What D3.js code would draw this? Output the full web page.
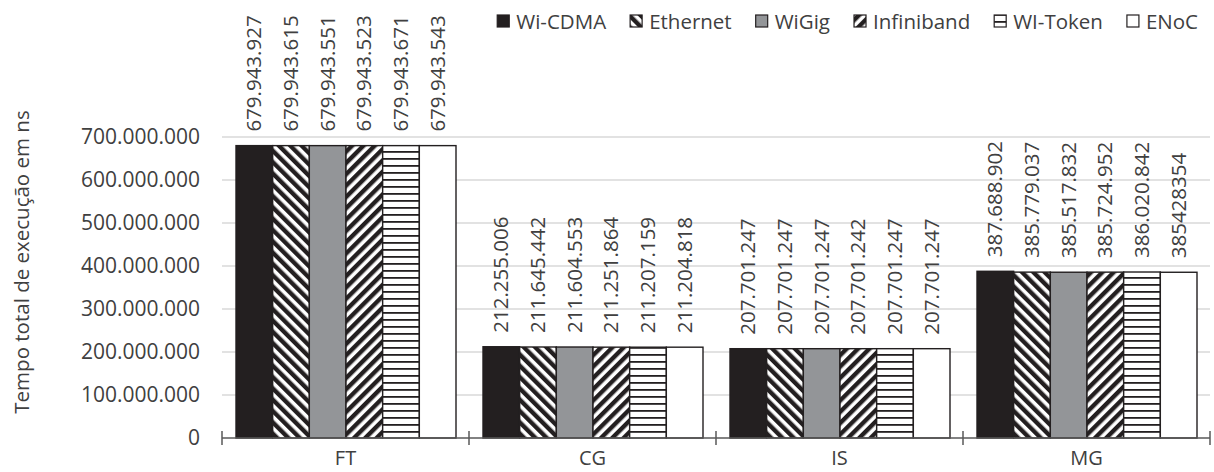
<!DOCTYPE html>
<html>
<head>
<meta charset="utf-8">
<script src="https://cdn.jsdelivr.net/npm/d3@7"></script>
<style>
  body { margin: 0; background: #fff; }
  text { font-family: "Open Sans", sans-serif; fill: #404040; }
</style>
</head>
<body>
<div id="chart"></div>
<script>
// categories and series
var categories = ["FT", "CG", "IS", "MG"];
var seriesNames = ["Wi-CDMA", "Ethernet", "WiGig", "Infiniband", "WI-Token", "ENoC"];

var wiCdma     = [679943927, 212255006, 207701247, 387688902];
var ethernet   = [679943615, 211645442, 207701247, 385779037];
var wigig      = [679943551, 211604553, 207701247, 385517832];
var infiniband = [679943523, 211251864, 207701242, 385724952];
var wiToken    = [679943671, 211207159, 207701247, 386020842];
var enoc       = [679943543, 211204818, 207701247, 385428354];

// the MG / ENoC label is printed without separators in the original
var enocLabels = ["679.943.543", "211.204.818", "207.701.247", "385428354"];

var yTicks = [0, 100000000, 200000000, 300000000, 400000000, 500000000, 600000000, 700000000];

var seriesValues = [wiCdma, ethernet, wigig, infiniband, wiToken, enoc];

var svgWidth = 1214;
var svgHeight = 472;
var margin = { top: 137, right: 4, bottom: 34, left: 222 };
var width = svgWidth - margin.left - margin.right;
var height = svgHeight - margin.top - margin.bottom;

var fmt = function(v) { return d3.format(",")(v).replace(/,/g, "."); };

var svg = d3.select("#chart")
  .append("svg")
  .attr("width", svgWidth)
  .attr("height", svgHeight);

// patterns
var defs = svg.append("defs");
function stripes(id, angle) {
  var p = defs.append("pattern")
    .attr("id", id)
    .attr("patternUnits", "userSpaceOnUse")
    .attr("width", 8).attr("height", 8)
    .attr("patternTransform", "rotate(" + angle + ")");
  p.append("rect").attr("width", 8).attr("height", 8).attr("fill", "#fff");
  p.append("rect").attr("width", 4.4).attr("height", 8).attr("fill", "#231f20");
}
stripes("pat-back", -45);
stripes("pat-fwd", 45);
var ph = defs.append("pattern")
  .attr("id", "pat-horiz")
  .attr("patternUnits", "userSpaceOnUse")
  .attr("width", 8).attr("height", 7);
ph.append("rect").attr("width", 8).attr("height", 7).attr("fill", "#fff");
ph.append("rect").attr("y", 0).attr("width", 8).attr("height", 1.8).attr("fill", "#231f20");

var fills = ["#231f20", "url(#pat-back)", "#939598", "url(#pat-fwd)", "url(#pat-horiz)", "#ffffff"];

var chartGroup = svg.append("g")
  .attr("transform", `translate(${margin.left}, ${margin.top})`);

// scales
var x0 = d3.scaleBand()
  .domain(categories)
  .range([0, width]);

var gap = 14;
var x1 = d3.scaleBand()
  .domain(seriesNames)
  .range([gap, x0.bandwidth() - gap + 1]);

var yLinearScale = d3.scaleLinear()
  .domain([0, 700000000])
  .range([height, 0]);

// gridlines
chartGroup.append("g")
  .selectAll("line")
  .data(yTicks.slice(1))
  .enter()
  .append("line")
    .attr("x1", 0)
    .attr("x2", width)
    .attr("y1", d => yLinearScale(d))
    .attr("y2", d => yLinearScale(d))
    .attr("stroke", "#d9d9d9")
    .attr("stroke-width", 1.3);

// y tick labels (no axis line)
var leftAxis = d3.axisLeft(yLinearScale)
  .tickValues(yTicks)
  .tickFormat(fmt)
  .tickSize(0)
  .tickPadding(22);
var yAxisG = chartGroup.append("g").call(leftAxis);
yAxisG.select(".domain").remove();
yAxisG.selectAll("text")
  .style("font-family", "Open Sans")
  .style("font-size", "21px")
  .attr("fill", "#404040");

// bars
var rows = categories.map(function(c, i) {
  return seriesNames.map(function(s, j) {
    return { cat: c, series: s, idx: j, value: seriesValues[j][i],
             label: j === 5 ? enocLabels[i] : fmt(seriesValues[j][i]) };
  });
});

var groups = chartGroup.selectAll(".cat")
  .data(rows)
  .enter()
  .append("g")
    .attr("class", "cat")
    .attr("transform", (d, i) => `translate(${x0(categories[i])}, 0)`);

groups.selectAll("rect")
  .data(d => d)
  .enter()
  .append("rect")
    .attr("x", d => x1(d.series))
    .attr("y", d => yLinearScale(d.value))
    .attr("width", x1.bandwidth())
    .attr("height", d => height - yLinearScale(d.value))
    .attr("fill", d => fills[d.idx])
    .attr("stroke", "#231f20")
    .attr("stroke-width", 1.4);

// value labels
groups.selectAll("text.val")
  .data(d => d)
  .enter()
  .append("text")
    .attr("class", "val")
    .attr("transform", d => `translate(${x1(d.series) + x1.bandwidth() / 2 + 7}, ${yLinearScale(d.value) - 14}) rotate(-90)`)
    .style("font-size", "20.5px")
    .attr("fill", "#404040")
    .text(d => d.label);

// x axis line + boundary ticks
chartGroup.append("line")
  .attr("x1", 0).attr("x2", width)
  .attr("y1", height).attr("y2", height)
  .attr("stroke", "#595959").attr("stroke-width", 1.5);

chartGroup.append("g")
  .selectAll("line")
  .data(d3.range(categories.length + 1))
  .enter()
  .append("line")
    .attr("x1", d => d * x0.bandwidth())
    .attr("x2", d => d * x0.bandwidth())
    .attr("y1", height - 7)
    .attr("y2", height + 7)
    .attr("stroke", "#595959")
    .attr("stroke-width", 1.5);

chartGroup.append("g")
  .selectAll("text")
  .data(categories)
  .enter()
  .append("text")
    .attr("x", d => x0(d) + x0.bandwidth() / 2)
    .attr("y", height + 27)
    .attr("text-anchor", "middle")
    .style("font-size", "20px")
    .text(d => d);

// y axis title
svg.append("text")
  .attr("transform", "translate(29, 262) rotate(-90)")
  .attr("text-anchor", "middle")
  .style("font-size", "20.5px")
  .text("Tempo total de execução em ns");

// legend, laid out from the right end
var legend = svg.append("g");
var legendRight = 1198;
var items = legend.selectAll("g")
  .data(seriesNames)
  .enter()
  .append("g");
items.append("text")
  .attr("y", 29)
  .style("font-size", "20.5px")
  .text(d => d);
items.append("rect")
  .attr("y", 15)
  .attr("width", 12)
  .attr("height", 12)
  .attr("fill", (d, i) => fills[i])
  .attr("stroke", "#231f20")
  .attr("stroke-width", 1.2);

var widths = [];
items.select("text").each(function() { widths.push(this.getComputedTextLength()); });
var pos = legendRight;
var starts = [];
for (var k = seriesNames.length - 1; k >= 0; k--) {
  var textX = pos - widths[k];
  starts[k] = textX;
  pos = textX - 20 - 23;
}
items.select("text").attr("x", (d, i) => starts[i]);
items.select("rect").attr("x", (d, i) => starts[i] - 19);
</script>
</body>
</html>
